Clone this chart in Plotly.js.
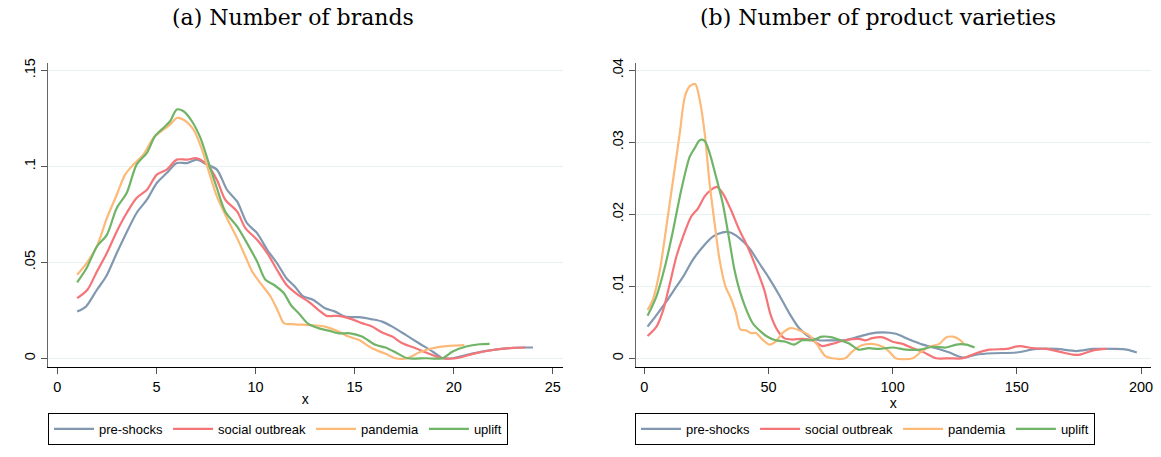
<!DOCTYPE html>
<html>
<head>
<meta charset="utf-8">
<script src="https://cdn.plot.ly/plotly-3.0.1.min.js"></script>
<style>html,body{margin:0;padding:0;background:#fff;}#chart{width:1161px;height:457px;}</style>
</head>
<body>
<div id="chart"></div>
<script>
// ---------- Panel (a): Number of brands ----------
const brandsPreX = [1.0,1.45,2.0,2.46,3.0,3.47,4.0,4.52,5.02,5.52,6.03,6.54,7.04,7.55,8.05,8.56,9.07,9.57,10.08,10.59,11.09,11.56,11.98,12.41,12.92,13.51,14.02,14.53,15.2,15.88,16.39,16.9,17.58,18.25,18.93,19.44,19.95,20.63,21.64,22.66,23.5,24.0];
const brandsPreY = [0.0243,0.027,0.0357,0.0426,0.0548,0.065,0.0757,0.0826,0.0913,0.0965,0.1017,0.1017,0.1035,0.1009,0.0983,0.0878,0.0817,0.0704,0.0652,0.0565,0.0495,0.0417,0.0374,0.0322,0.0304,0.0261,0.0243,0.0217,0.0214,0.0203,0.0191,0.0165,0.0122,0.0078,0.0035,0.0,0.0,0.0017,0.0038,0.0052,0.0056,0.0056];

const brandsSocX = [1.0,1.52,2.0,2.5,3.0,3.5,4.0,4.52,5.02,5.52,6.03,6.54,7.04,7.55,8.05,8.47,9.07,9.49,10.08,10.59,11.09,11.56,12.15,12.66,13.17,13.59,14.19,14.69,15.37,15.88,16.39,16.9,17.41,18.08,18.76,19.44,20.12,20.97,21.98,23.0,23.6];
const brandsSocY = [0.0313,0.0357,0.0452,0.0548,0.0661,0.0757,0.0835,0.0878,0.0957,0.0983,0.1035,0.1035,0.1042,0.1009,0.093,0.0826,0.0765,0.0678,0.0617,0.0548,0.046,0.0383,0.033,0.0296,0.0252,0.0221,0.0221,0.0209,0.0183,0.0165,0.0134,0.0113,0.0078,0.0052,0.0023,0.0,0.0,0.0023,0.0043,0.0054,0.0056];

const brandsPanX = [1.0,1.48,2.0,2.5,3.0,3.42,3.84,4.34,4.85,5.35,5.69,6.03,6.37,6.87,7.3,7.64,8.05,8.56,9.07,9.49,9.83,10.25,10.76,11.18,11.43,11.98,12.66,13.51,14.19,14.69,15.2,15.88,16.56,17.07,17.66,18.25,18.93,19.78,20.54];
const brandsPanY = [0.0435,0.0496,0.0583,0.073,0.0852,0.0957,0.1009,0.1061,0.1148,0.1191,0.1217,0.1252,0.1243,0.1191,0.1087,0.0974,0.0843,0.073,0.0626,0.053,0.0452,0.0391,0.0322,0.0235,0.0183,0.0177,0.0174,0.0165,0.0139,0.0113,0.0096,0.0052,0.0023,0.0,0.0,0.003,0.0052,0.0064,0.0068];

const brandsUpX = [1.0,1.48,2.0,2.5,3.0,3.5,4.0,4.52,4.93,5.35,5.69,6.03,6.37,6.79,7.22,7.64,8.05,8.47,9.07,9.57,10.08,10.5,10.92,11.43,11.8,12.2,12.66,13.17,13.68,14.19,14.78,15.37,16.05,16.56,17.15,17.66,18.59,19.44,19.95,20.63,21.31,21.81];
const brandsUpY = [0.0395,0.047,0.0583,0.0643,0.0783,0.0861,0.1009,0.107,0.1157,0.12,0.1235,0.1296,0.1287,0.1235,0.1148,0.1017,0.0887,0.0765,0.0687,0.06,0.0504,0.0409,0.0383,0.0339,0.0275,0.0232,0.0179,0.0157,0.0144,0.013,0.013,0.0113,0.007,0.0056,0.0026,0.0,0.0,0.0,0.0035,0.0061,0.0073,0.0075];

// ---------- Panel (b): Number of product varieties ----------
const varPreX = [1.3,4.9,8.9,12.9,15.6,19.6,23.6,27.6,31.6,34.3,38.3,42.3,46.3,50.3,54.3,58.3,62.3,66.3,70.3,75.6,80.9,86.4,90.5,96,101.3,106.7,112.1,117.5,122.9,128.3,133.6,140.4,149.8,157.9,165.9,174,180.8,188.8,194.2,198.3];
const varPreY = [0.0044,0.006,0.0079,0.00995,0.0113,0.0137,0.0155,0.0169,0.0175,0.0175,0.0167,0.0153,0.0132,0.0111,0.0088,0.0063,0.0042,0.003,0.0025,0.0025,0.0025,0.003,0.0034,0.0036,0.0034,0.0026,0.0019,0.0014,0.0008,0.0001,0.0005,0.0007,0.0008,0.0013,0.0013,0.001,0.0013,0.0013,0.0012,0.0008];

const varSocX = [1.3,4.9,7.6,10.3,12.9,15.6,18.9,21.6,24.3,26.9,29.2,31.6,34.9,38.3,41.6,44.9,48.3,50.9,53.6,56.3,59.6,63.6,67.6,71.6,75.6,80.9,86.4,89.1,91.8,96,100,104,108.1,112.1,117.5,122.9,128.3,133.6,139,145.8,151.1,156.5,161.9,167.3,172.7,175.4,180.8,186.1];
const varSocY = [0.0031,0.0044,0.0067,0.0104,0.0141,0.0169,0.0197,0.0208,0.0225,0.0234,0.0238,0.0229,0.0206,0.0178,0.0155,0.0127,0.0095,0.006,0.0039,0.0028,0.0026,0.0027,0.0025,0.0017,0.002,0.0025,0.0027,0.0025,0.0028,0.0029,0.0023,0.002,0.0014,0.0009,0.0,0.0,0.0,0.0007,0.0012,0.0013,0.0017,0.0014,0.0013,0.0009,0.0005,0.0005,0.0011,0.0013];

const varPanX = [1.3,3.6,6.3,8.9,11.6,14.3,16.3,18.3,20.5,22.3,24.3,26.3,28.3,30.3,32.7,34.9,36.9,38.7,40.9,42.9,44.9,47.6,50.3,52.9,55.6,58.9,62.3,66.3,69.6,72.9,75.6,80.9,83.6,87.6,91.7,96,98.7,101.3,108.1,111.4,114.8,118.8,121.5,124.2,126.9,128.9];
const varPanY = [0.0067,0.0083,0.0123,0.0183,0.0248,0.0313,0.0363,0.0378,0.0381,0.0359,0.0313,0.0243,0.0188,0.0137,0.00995,0.0083,0.0063,0.004,0.0039,0.0035,0.0035,0.0026,0.0019,0.0023,0.0035,0.0042,0.0039,0.0032,0.0019,0.0003,0.0,0.0,0.0009,0.0018,0.002,0.0016,0.0009,0.0,0.0,0.0009,0.0016,0.002,0.0029,0.003,0.0026,0.0019];

const varUpX = [1.3,4.9,8.3,11.6,14.9,18.3,20.3,22.3,24.3,26.3,28.9,31.6,34.0,36.3,38.3,40.9,43.6,46.9,49.6,52.9,56.9,60.3,63.6,67.6,71.6,75.6,78.9,82.3,86.3,90.3,94.5,100,105.4,110.8,116.2,121.5,125.6,129.6,133.0];
const varUpY = [0.0059,0.0086,0.0127,0.0178,0.0234,0.028,0.0292,0.0303,0.0302,0.0285,0.0252,0.0215,0.0169,0.0123,0.0095,0.0069,0.0049,0.0037,0.003,0.0025,0.0023,0.0019,0.0025,0.0025,0.003,0.0029,0.0025,0.0021,0.0012,0.0014,0.0013,0.0015,0.0012,0.0012,0.0016,0.0015,0.0019,0.0019,0.0015];

const seriesNames = ['pre-shocks','social outbreak','pandemia','uplift'];
const seriesColors = ['#8198b0','#f57478','#fdb978','#70b468'];

const xTicksA = [0,5,10,15,20,25];
const yTicksA = [0,0.05,0.1,0.15];
const yTickTextA = ['0','.05','.1','.15'];
const xTicksB = [0,50,100,150,200];
const yTicksB = [0,0.01,0.02,0.03,0.04];
const yTickTextB = ['0','.01','.02','.03','.04'];

const panelTitles = ['(a) Number of brands','(b) Number of product varieties'];

const W = 1161, H = 457;
const px = v => v / W;
const py = v => (H - v) / H;

const dataA = [[brandsPreX,brandsPreY],[brandsSocX,brandsSocY],[brandsPanX,brandsPanY],[brandsUpX,brandsUpY]];
const dataB = [[varPreX,varPreY],[varSocX,varSocY],[varPanX,varPanY],[varUpX,varUpY]];

const traces = [];
dataA.forEach((d,i)=>traces.push({
  x:d[0], y:d[1], type:'scatter', mode:'lines', name:seriesNames[i],
  line:{color:seriesColors[i], width:2.2, shape:'spline', smoothing:0.8},
  xaxis:'x', yaxis:'y', legend:'legend'
}));
dataB.forEach((d,i)=>traces.push({
  x:d[0], y:d[1], type:'scatter', mode:'lines', name:seriesNames[i],
  line:{color:seriesColors[i], width:2.2, shape:'spline', smoothing:0.8},
  xaxis:'x2', yaxis:'y2', legend:'legend2'
}));

const tickFont = {family:'Liberation Sans, Arial, sans-serif', size:14.5, color:'#000'};
const yDomain = [py(366.7), py(62.7)];

function xAxis(domain, range, ticks, anchor){
  return {domain, range, tickvals:ticks, ticktext:ticks.map(String), ticks:'outside', ticklen:6,
    tickcolor:'#555', tickwidth:1, showline:true, linecolor:'#000', linewidth:1.5, showgrid:false,
    zeroline:false, tickfont:tickFont, anchor, fixedrange:true,
    title:{text:'x', font:{family:'Liberation Sans, Arial, sans-serif', size:14, color:'#000'}, standoff:0}};
}
function yAxis(domain, range, ticks, text, anchor){
  return {domain, range, tickvals:ticks, ticktext:text, ticks:'outside', ticklen:6,
    tickcolor:'#555', tickwidth:1, showline:true, linecolor:'#666', linewidth:1.5, showgrid:true,
    gridcolor:'#e8f0f2', gridwidth:1, zeroline:false, tickfont:tickFont, tickangle:-90, anchor, fixedrange:true};
}

const legendBase = {orientation:'h', xanchor:'left', yanchor:'top', bordercolor:'#000', borderwidth:1,
  bgcolor:'#fff', font:{family:'Liberation Sans, Arial, sans-serif', size:13, color:'#000'}, itemwidth:40, tracegroupgap:0};

const layout = {
  width:W, height:H, margin:{l:0,r:0,t:0,b:0}, paper_bgcolor:'#fff', plot_bgcolor:'#fff',
  showlegend:true,
  xaxis: xAxis([px(48), px(562.7)], [-0.47, 25.5], xTicksA, 'y'),
  yaxis: yAxis(yDomain, [-0.0044, 0.154], yTicksA, yTickTextA, 'x'),
  xaxis2: xAxis([px(636), px(1150.7)], [-3.34, 203.9], xTicksB, 'y2'),
  yaxis2: yAxis(yDomain, [-0.00117, 0.04106], yTicksB, yTickTextB, 'x2'),
  legend: Object.assign({}, legendBase, {x:px(48), y:py(413)}),
  legend2: Object.assign({}, legendBase, {x:px(635), y:py(413)}),
  annotations:[
    {text:panelTitles[0], xref:'paper', yref:'paper', x:px(293), y:py(18), xanchor:'center', yanchor:'middle',
     showarrow:false, font:{family:'DejaVu Serif, serif', size:22, color:'#000'}},
    {text:panelTitles[1], xref:'paper', yref:'paper', x:px(877.5), y:py(18), xanchor:'center', yanchor:'middle',
     showarrow:false, font:{family:'DejaVu Serif, serif', size:22, color:'#000'}}
  ]
};

Plotly.newPlot('chart', traces, layout, {displayModeBar:false, staticPlot:true});
</script>
</body>
</html>
